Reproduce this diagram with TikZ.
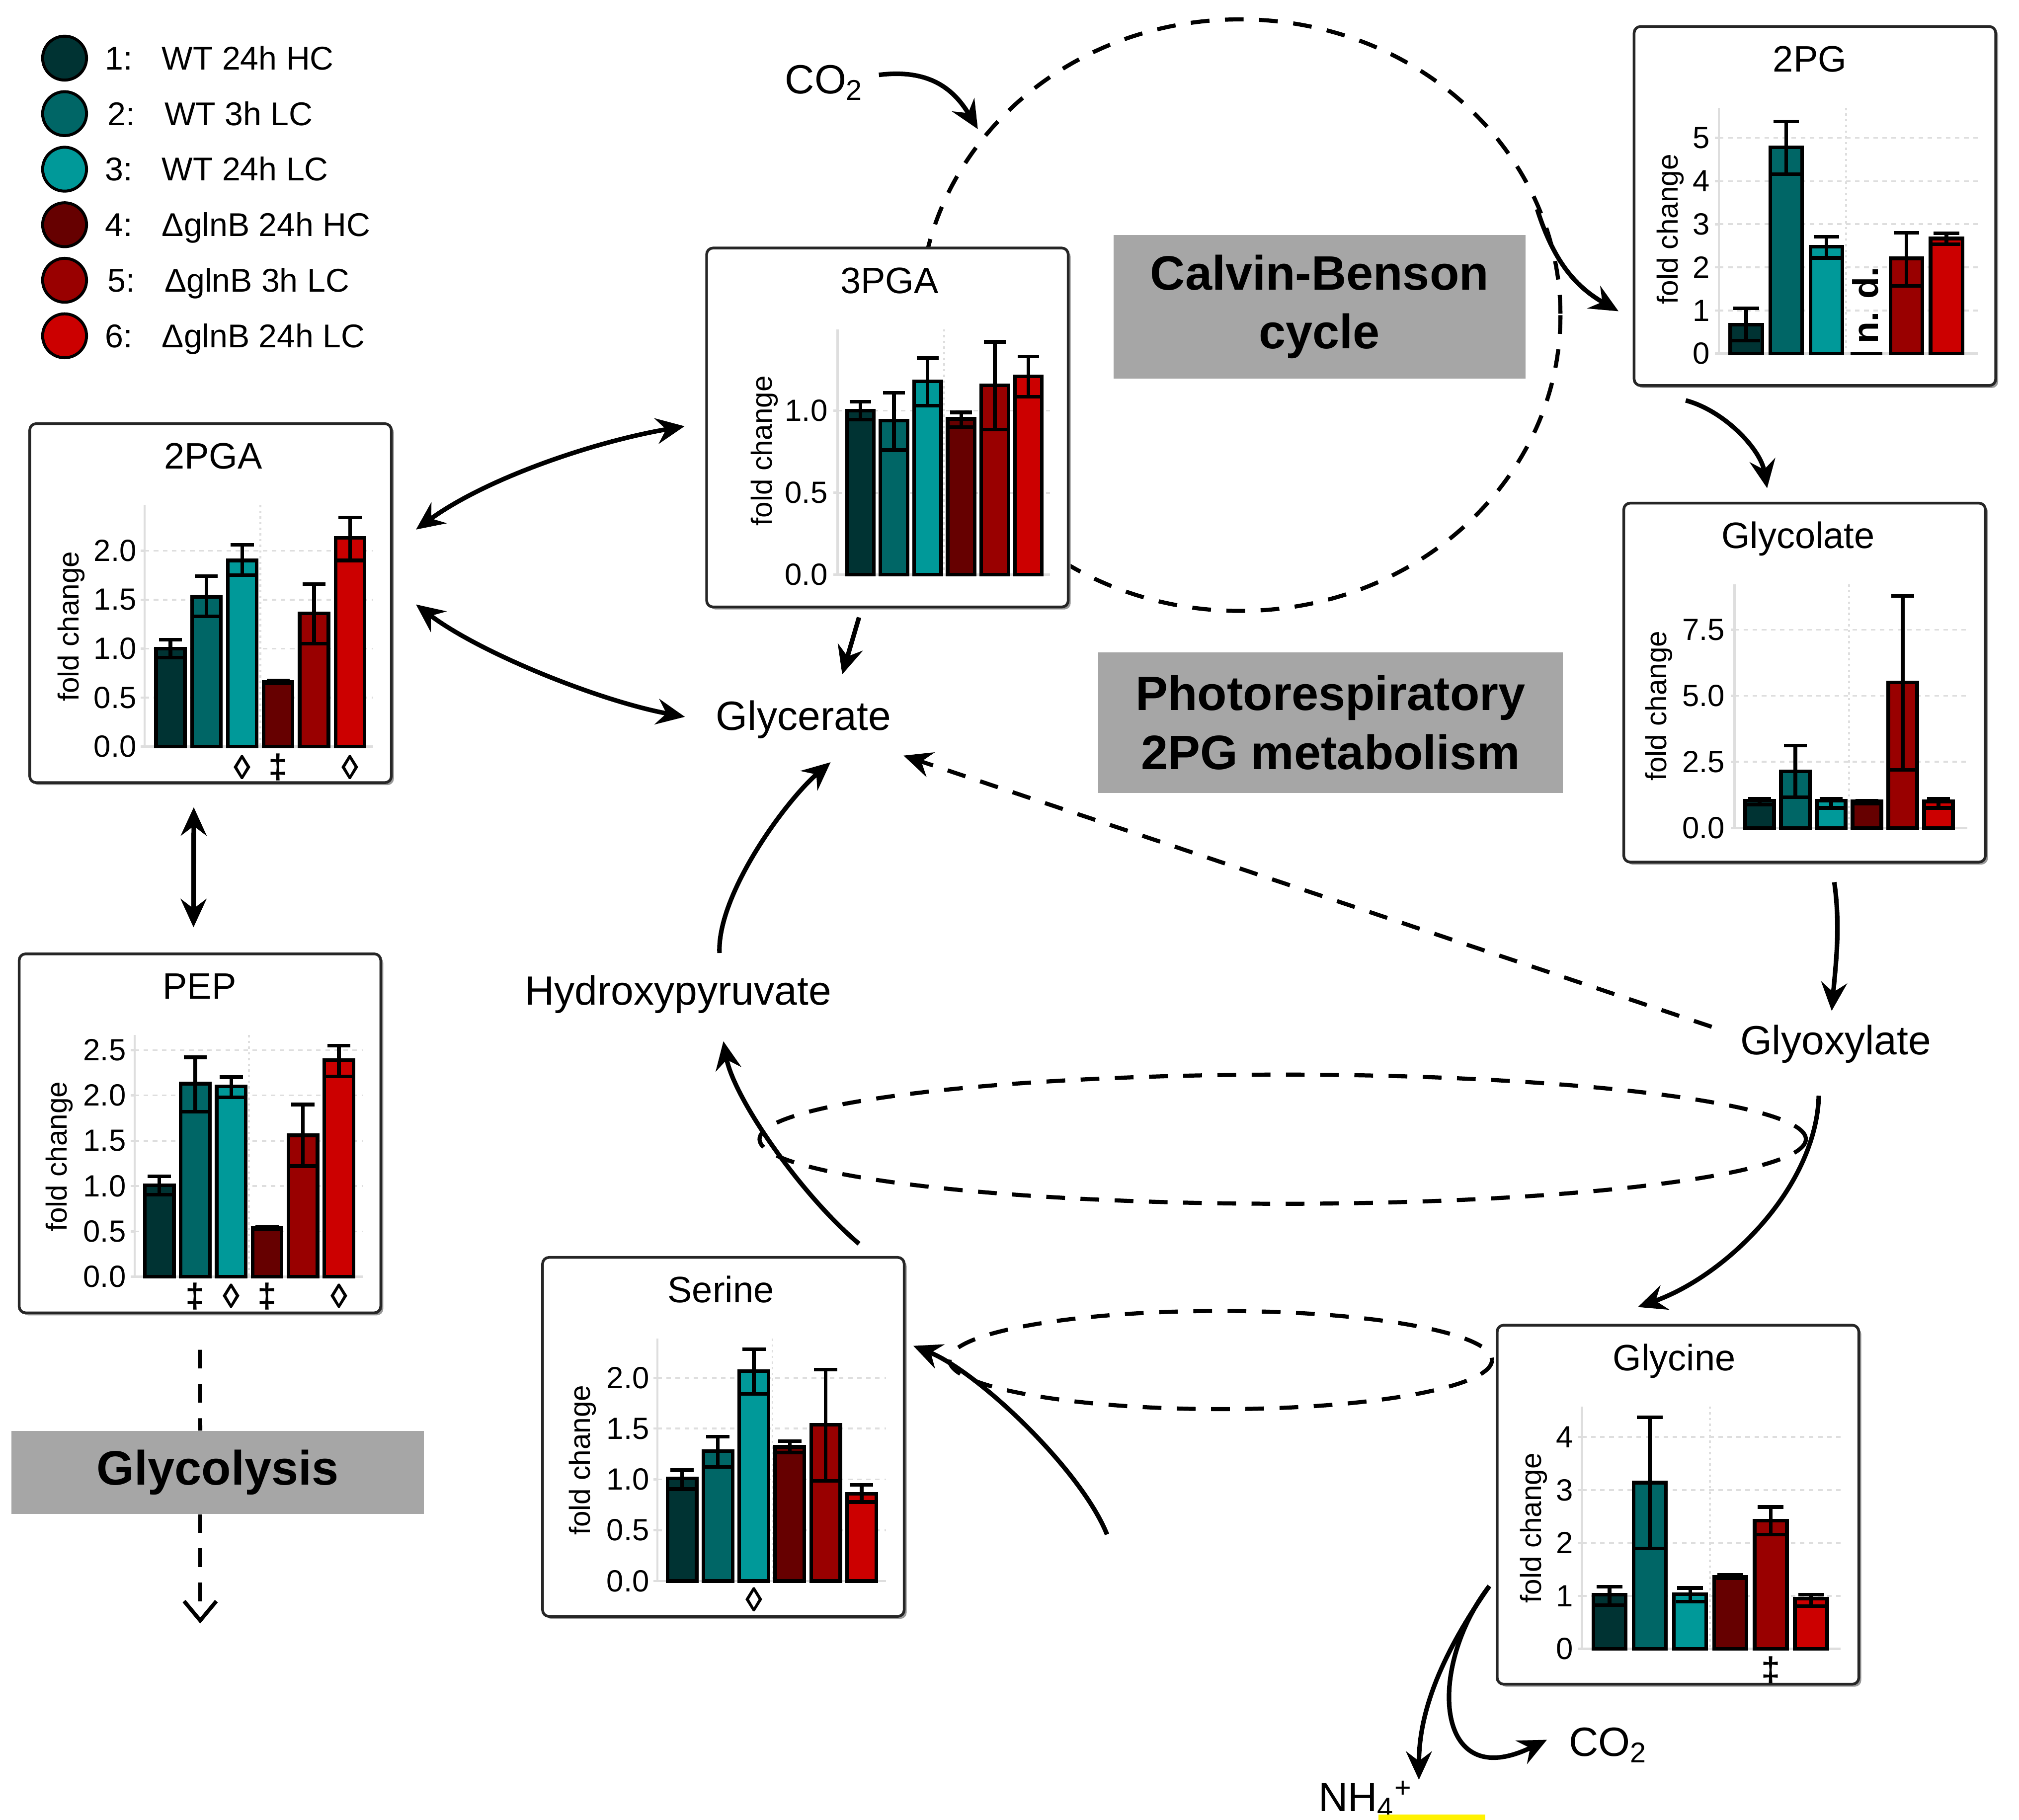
\documentclass[tikz,border=0pt]{standalone}
\usepackage{fontspec}
\setmainfont{Liberation Sans}
\usetikzlibrary{arrows.meta,shadows}

\definecolor{c1}{RGB}{0,51,51}
\definecolor{c2}{RGB}{0,102,102}
\definecolor{c3}{RGB}{0,153,153}
\definecolor{c4}{RGB}{102,0,0}
\definecolor{c5}{RGB}{153,0,0}
\definecolor{c6}{RGB}{204,0,0}
\definecolor{tagGray}{RGB}{166,166,166}
\definecolor{gridGray}{RGB}{222,222,222}

\tikzset{
  chartbox/.style={draw=black!85, line width=1.2pt, rounded corners=0.1cm, fill=white,
    minimum width=5.6cm, minimum height=5.56cm, inner sep=0pt,
    drop shadow={shadow xshift=1.1pt, shadow yshift=-1.1pt, fill=black!40, opacity=1}},
  charttitle/.style={font=\fontsize{16.2}{19}\selectfont, inner sep=0pt, anchor=base},
  ticklab/.style={font=\fontsize{13.5}{15}\selectfont, anchor=east, inner sep=0pt},
  foldlab/.style={font=\fontsize{12.8}{15}\selectfont, rotate=90, inner sep=0pt},
  sigmark/.style={font=\fontsize{15}{18}\selectfont\bfseries, inner sep=0pt},
  ndlab/.style={font=\fontsize{15.7}{18}\selectfont\bfseries, rotate=90, inner sep=0pt},
  axisline/.style={draw=gridGray, line width=1pt},
  hgrid/.style={draw=gridGray, line width=0.8pt, dash pattern=on 2pt off 2pt},
  vgrid/.style={draw=gridGray, line width=0.8pt, dash pattern=on 1pt off 1.5pt},
  barline/.style={draw=black, line width=1.6pt},
  errline/.style={draw=black, line width=1.6pt},
  legdot/.style={circle, draw=black, line width=1.3pt, minimum size=0.68cm, inner sep=0pt},
  legtext/.style={font=\fontsize{14.5}{17}\selectfont, anchor=base west, inner sep=0pt},
  metab/.style={font=\fontsize{18}{21}\selectfont, inner sep=1pt},
  tagbox/.style={fill=tagGray, font=\fontsize{21.3}{26}\selectfont\bfseries, align=center, inner sep=0pt},
  flow/.style={draw=black, line width=2pt},
  cycleline/.style={draw=black, line width=1.8pt, dash pattern=on 0.29cm off 0.24cm},
  flowhead/.tip={Stealth[length=0.44cm, width=0.4cm, inset=0.15cm]},
}

% frame, title, axis and y label of one chart (parameters set in its scope)
\newcommand{\chartframe}[2]{%
  \node[chartbox] (\cid) at (141,140) {};
  \node[charttitle] (\cid-title) at (#2,36) {#1};
  \draw[axisline] (\cax,64) -- (\cax,\cyz) -- (267,\cyz);
  \draw[vgrid] (\cvg,64) -- (\cvg,\cyz);
  \node[foldlab] (\cid-ylab) at (\cfc,158) {fold change};
}
\newcommand{\charttick}[3]{%
  \draw[hgrid] (\cax,{\cyz-#2*\cys}) -- (267,{\cyz-#2*\cys});
  \draw[axisline] (\cax-3,{\cyz-#2*\cys}) -- (\cax,{\cyz-#2*\cys});
  \node[ticklab] (\cid-t#1) at (\ctl,{\cyz-#2*\cys}) {#3};
}
\newcommand{\chartbar}[4]{%
  \draw[barline, fill=c#1] ({\cbz+(#1-1)*\cbp},\cyz) rectangle ++(\cbw,{-#2*\cys});
  \draw[errline] ({\cbz+(#1-1)*\cbp+0.5*\cbw},{\cyz-#3*\cys}) -- ++(0,{(#3-#4)*\cys});
  \draw[errline] ({\cbz+(#1-1)*\cbp+0.06*\cbw},{\cyz-#3*\cys}) -- ++(0.88*\cbw,0);
  \draw[errline] ({\cbz+(#1-1)*\cbp+0.1*\cbw},{\cyz-#4*\cys}) -- ++(0.8*\cbw,0);
}
\newcommand{\chartmark}[3]{%
  \node[sigmark] (\cid-m#1) at ({\cbz+(#1-1)*\cbp+0.5*\cbw},#2) {#3};
}

\begin{document}
\begin{tikzpicture}[x=0.02cm,y=-0.02cm]
\path[use as bounding box, fill=white] (0,0) rectangle (1563,1409);

% legend
\foreach \n/\dx/\txt in {1/0/WT 24h HC, 2/2/WT 3h LC, 3/0/WT 24h LC, 4/0/ΔglnB 24h HC, 5/2/ΔglnB 3h LC, 6/0/ΔglnB 24h LC}{
  \node[legdot, fill=c\n] (dot\n) at (50,{45+(\n-1)*43}) {};
  \node[legtext] (num\n) at ({81+\dx},{54+(\n-1)*43}) {\n:};
  \node[legtext] (leg\n) at ({125+\dx},{54+(\n-1)*43}) {\txt};
}

% cycles
\draw[cycleline] (960,244) ellipse [x radius=248, y radius=229];
\coordinate (cbin) at (757,100);
\coordinate (cbout) at (1190,162);
\draw[cycleline] (993,882) ellipse [x radius=405, y radius=50];
\draw[cycleline] (945,1053) ellipse [x radius=210, y radius=38];

% 2PGA
\begin{scope}[shift={(22,327)}]
  \def\cid{pga2}\def\cax{90}\def\cbz{98.8}\def\cbp{27.8}\def\cbw{22.3}
  \def\cys{75.8}\def\cyz{251}\def\ctl{84}\def\cfc{33}\def\cvg{179.6}
  \chartframe{2PGA}{143}
  \foreach \t/\l [count=\k] in {0/0.0,0.5/0.5,1/1.0,1.5/1.5,2/2.0} {\charttick{\k}{\t}{\l}}
  \foreach \i/\v/\lo/\hi in {1/1.0/0.91/1.09, 2/1.53/1.33/1.74, 3/1.90/1.75/2.06,
      4/0.66/0.645/0.675, 5/1.36/1.05/1.66, 6/2.13/1.90/2.34} {\chartbar{\i}{\v}{\lo}{\hi}}
  \chartmark{3}{267}{◊}\chartmark{4}{267}{‡}\chartmark{6}{267}{◊}
\end{scope}

% 3PGA
\begin{scope}[shift={(546,191)}]
  \def\cid{pga3}\def\cax{102.3}\def\cbz{109.6}\def\cbp{26}\def\cbw{21}
  \def\cys{127}\def\cyz{254}\def\ctl{95}\def\cfc{45.7}\def\cvg{185}
  \chartframe{3PGA}{142.5}
  \foreach \t/\l [count=\k] in {0/0.0,0.5/0.5,1/1.0} {\charttick{\k}{\t}{\l}}
  \foreach \i/\v/\lo/\hi in {1/1.0/0.945/1.055, 2/0.94/0.76/1.11, 3/1.18/1.03/1.32,
      4/0.95/0.90/0.99, 5/1.155/0.885/1.42, 6/1.21/1.085/1.33} {\chartbar{\i}{\v}{\lo}{\hi}}
\end{scope}

% 2PG
\begin{scope}[shift={(1264,19.5)}]
  \def\cid{pg2}\def\cax{66.7}\def\cbz{75.5}\def\cbp{31}\def\cbw{24.7}
  \def\cys{33.4}\def\cyz{254.3}\def\ctl{60}\def\cfc{29.2}\def\cvg{165}
  \chartframe{2PG}{137}
  \foreach \t [count=\k] in {0,1,2,3,4,5} {\charttick{\k}{\t}{\t}}
  \foreach \i/\v/\lo/\hi in {1/0.67/0.30/1.05, 2/4.78/4.16/5.38, 3/2.48/2.22/2.71,
      5/2.21/1.57/2.80, 6/2.67/2.54/2.79} {\chartbar{\i}{\v}{\lo}{\hi}}
  \draw[barline] ({\cbz+3*\cbp},\cyz) -- ++(\cbw,0);
  \node[ndlab] (pg2-nd) at (180,217) {n. d.};
\end{scope}

% Glycolate
\begin{scope}[shift={(1256,388.5)}]
  \def\cid{glycolate}\def\cax{86.8}\def\cbz{95}\def\cbp{27.7}\def\cbw{22.3}
  \def\cys{20.46}\def\cyz{252.5}\def\ctl{79.5}\def\cfc{28.3}\def\cvg{175.4}
  \chartframe{Glycolate}{136}
  \foreach \t/\l [count=\k] in {0/0.0,2.5/2.5,5/5.0,7.5/7.5} {\charttick{\k}{\t}{\l}}
  \foreach \i/\v/\lo/\hi in {1/1.03/0.88/1.10, 2/2.14/1.16/3.12, 3/1.03/0.76/1.10,
      4/1.0/0.92/1.03, 5/5.51/2.19/8.77, 6/1.0/0.76/1.10} {\chartbar{\i}{\v}{\lo}{\hi}}
\end{scope}

% PEP
\begin{scope}[shift={(13.8,737.5)}]
  \def\cid{pep}\def\cax{90.4}\def\cbz{98.3}\def\cbp{27.8}\def\cbw{22.5}
  \def\cys{70.2}\def\cyz{251}\def\ctl{84}\def\cfc{32}\def\cvg{179}
  \chartframe{PEP}{140.7}
  \foreach \t/\l [count=\k] in {0/0.0,0.5/0.5,1/1.0,1.5/1.5,2/2.0,2.5/2.5} {\charttick{\k}{\t}{\l}}
  \foreach \i/\v/\lo/\hi in {1/1.01/0.906/1.107, 2/2.13/1.82/2.42, 3/2.10/1.98/2.20,
      4/0.536/0.52/0.55, 5/1.56/1.22/1.90, 6/2.39/2.21/2.55} {\chartbar{\i}{\v}{\lo}{\hi}}
  \chartmark{2}{266}{‡}\chartmark{3}{266}{◊}\chartmark{4}{266}{‡}\chartmark{6}{266}{◊}
\end{scope}

% Serine
\begin{scope}[shift={(419,972.5)}]
  \def\cid{serine}\def\cax{89.9}\def\cbz{97.7}\def\cbp{27.8}\def\cbw{22.6}
  \def\cys{78.7}\def\cyz{251.6}\def\ctl{84}\def\cfc{32}\def\cvg{179}
  \chartframe{Serine}{139}
  \foreach \t/\l [count=\k] in {0/0.0,0.5/0.5,1/1.0,1.5/1.5,2/2.0} {\charttick{\k}{\t}{\l}}
  \foreach \i/\v/\lo/\hi in {1/1.01/0.905/1.09, 2/1.28/1.125/1.42, 3/2.065/1.84/2.28,
      4/1.32/1.265/1.376, 5/1.536/0.986/2.08, 6/0.858/0.777/0.947} {\chartbar{\i}{\v}{\lo}{\hi}}
  \chartmark{3}{266}{◊}
\end{scope}

% Glycine
\begin{scope}[shift={(1158,1025)}]
  \def\cid{glycine}\def\cax{66.7}\def\cbz{75.5}\def\cbp{31.2}\def\cbw{25}
  \def\cys{41}\def\cyz{251.6}\def\ctl{60.3}\def\cfc{29.2}\def\cvg{165.7}
  \chartframe{Glycine}{138}
  \foreach \t [count=\k] in {0,1,2,3,4} {\charttick{\k}{\t}{\t}}
  \foreach \i/\v/\lo/\hi in {1/1.02/0.825/1.17, 2/3.14/1.895/4.37, 3/1.035/0.89/1.15,
      4/1.36/1.33/1.40, 5/2.42/2.16/2.68, 6/0.945/0.81/1.02} {\chartbar{\i}{\v}{\lo}{\hi}}
  \chartmark{5}{268}{‡}
\end{scope}

% labels
\node[tagbox, minimum width=6.38cm, minimum height=2.22cm] (calvin) at (1021.5,237.5) {Calvin-Benson\\cycle};
\node[tagbox, minimum width=7.2cm, minimum height=2.18cm] (photoresp) at (1030,559.5) {Photorespiratory\\2PG metabolism};
\node[tagbox, minimum width=6.38cm, minimum height=1.28cm] (glycolysis) at (168.5,1140) {Glycolysis};

\node[metab] (glycerate) at (622,557) {Glycerate};
\node[metab] (hydroxypyr) at (525,770) {Hydroxypyruvate};
\node[metab] (glyoxylate) at (1421,808.5) {Glyoxylate};
\node[metab] (co2top) at (638,64) {CO\textsubscript{2}};
\node[metab] (co2bot) at (1245,1351) {CO\textsubscript{2}};
\node[metab] (nh4) at (1057,1393) {NH\textsubscript{4}\textsuperscript{+}};
\coordinate (glyend) at (155,1257);

% arrows
\draw[flow,-flowhead] ([shift={(10,-6)}]co2top.east) .. controls +(40,-5) and +(-18,-30) .. (cbin);
\draw[flow,flowhead-flowhead] ([shift={(18,-57)}]pga2.east) .. controls +(55,-40) and +(-70,12) .. ([shift={(-16,-1)}]pga3.west);
\draw[flow,flowhead-flowhead] ([shift={(18,1)}]pga2.east) .. controls +(50,38) and +(-65,-12) .. ([shift={(-22,-2)}]glycerate.west);
\draw[flow,-flowhead] ([shift={(-22,7)}]pga3.south) -- ([shift={(30,-18)}]glycerate.north);
\draw[flow,flowhead-flowhead] ([shift={(-13,18)}]pga2.south) -- ([shift={(-5,-19.5)}]pep.north);
\draw[flow,-flowhead] (cbout) .. controls +(12,38) and +(-35,-20) .. ([shift={(-11,81.5)}]pg2.west);
\draw[flow,-flowhead] ([shift={(-100,10.5)}]pg2.south) .. controls +(30,8) and +(-5,-30) .. ([shift={(-29,-10.5)}]glycolate.north);
\draw[flow,-flowhead] ([shift={(23,14.5)}]glycolate.south) .. controls +(5,35) and +(3,-35) .. ([shift={(-3,-9)}]glyoxylate.north);
\draw[flow,-flowhead] ([shift={(-13,23)}]glyoxylate.south) .. controls +(-2,70) and +(70,-25) .. ([shift={(-31,-13)}]glycine.north);
\draw[flow,-flowhead] ([shift={(32,-15.3)}]hydroxypyr.north) .. controls +(-2,-45) and +(-35,30) .. ([shift={(21,16.3)}]glycerate.south);
\draw[flow,-flowhead] ([shift={(105,-9.5)}]serine.north) .. controls +(-45,-38) and +(8,44) .. ([shift={(35,19.3)}]hydroxypyr.south);
\draw[flow,-flowhead] ([shift={(-301,23)}]glycine.west) .. controls +(-20,-50) and +(50,20) .. ([shift={(6,-70.5)}]serine.east);
\draw[flow,-flowhead] ([shift={(-5,63)}]glycine.west) .. controls +(-35,50) and +(0,-55) .. ([shift={(3,-15)}]nh4.east);
\draw[flow,-flowhead] ([shift={(-5,63)}]glycine.west) .. controls +(-48,62) and +(-88,43) .. ([shift={(-15,-4)}]co2bot.west);

\draw[cycleline,-flowhead] ([shift={(-20,-13.5)}]glyoxylate.west) -- ([shift={(7.7,28)}]glycerate.east);
\draw[cycleline] ([shift={(0,27.5)}]pep.south) -- ([shift={(-13.5,0)}]glycolysis.north);
\draw[cycleline,-{Straight Barb[length=0.3cm,width=0.5cm,line width=1.7pt]}] ([shift={(-13.5,0)}]glycolysis.south) -- (glyend);

\fill[yellow] (1067,1405) rectangle (1150,1409);
\end{tikzpicture}
\end{document}
